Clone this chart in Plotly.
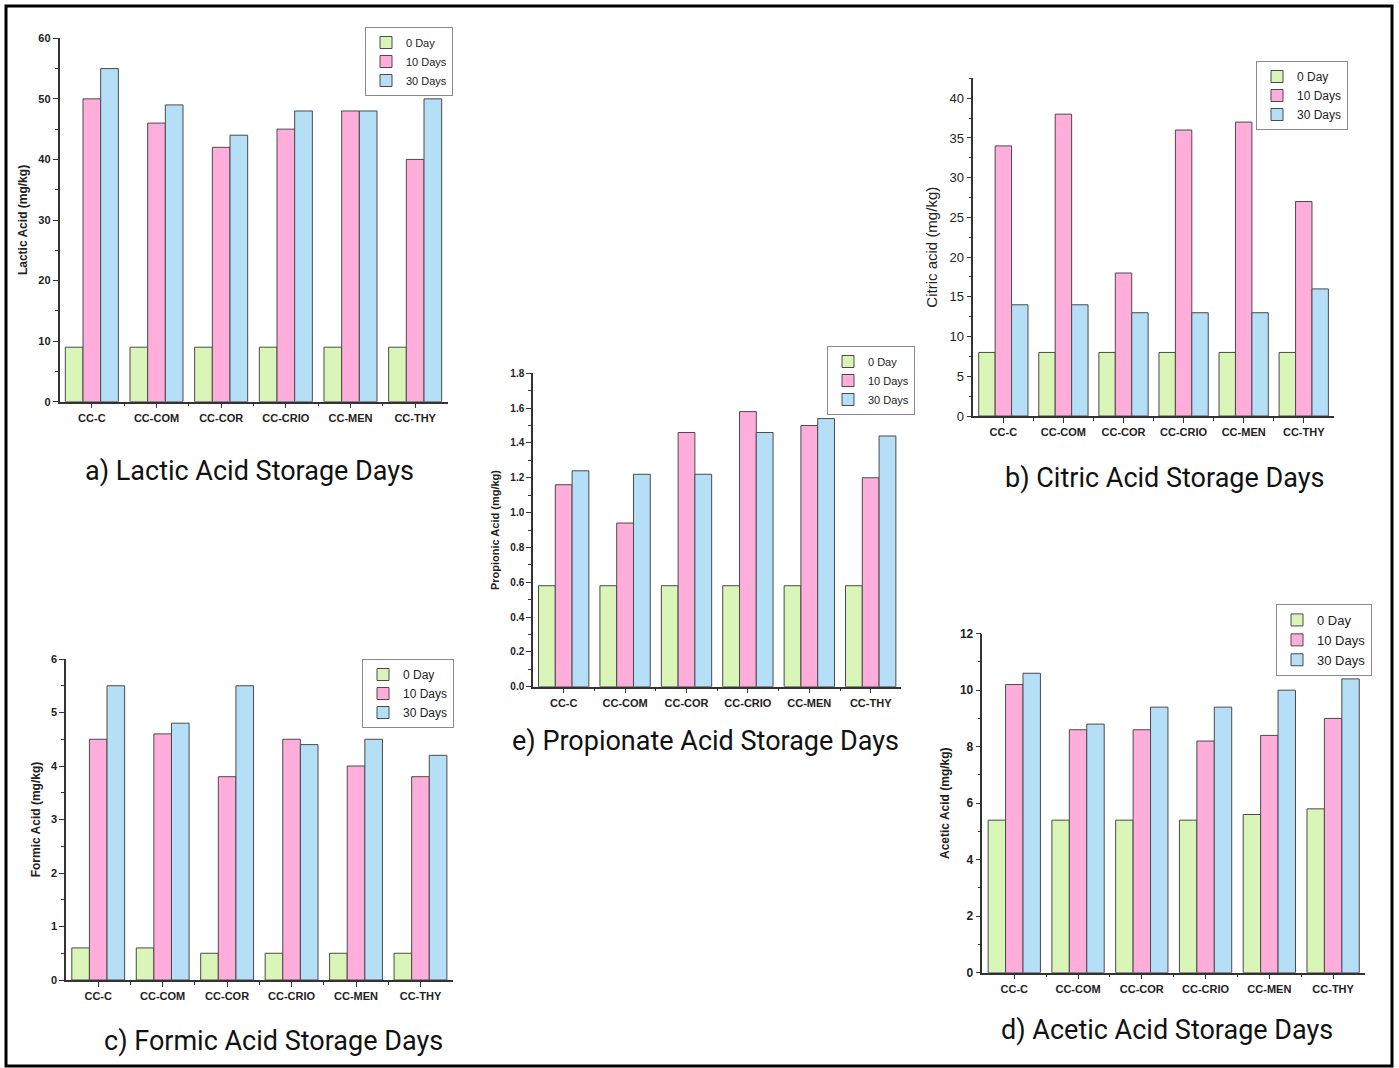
import plotly.graph_objects as go

# ---- data -------------------------------------------------------------
samples = ["CC-C", "CC-COM", "CC-COR", "CC-CRIO", "CC-MEN", "CC-THY"]
periods = ["0 Day", "10 Days", "30 Days"]

lactic_0 = [9, 9, 9, 9, 9, 9]
lactic_10 = [50, 46, 42, 45, 48, 40]
lactic_30 = [55, 49, 44, 48, 48, 50]

citric_0 = [8, 8, 8, 8, 8, 8]
citric_10 = [34, 38, 18, 36, 37, 27]
citric_30 = [14, 14, 13, 13, 13, 16]

propionic_0 = [0.58, 0.58, 0.58, 0.58, 0.58, 0.58]
propionic_10 = [1.16, 0.94, 1.46, 1.58, 1.50, 1.20]
propionic_30 = [1.24, 1.22, 1.22, 1.46, 1.54, 1.44]

formic_0 = [0.6, 0.6, 0.5, 0.5, 0.5, 0.5]
formic_10 = [4.5, 4.6, 3.8, 4.5, 4.0, 3.8]
formic_30 = [5.5, 4.8, 5.5, 4.4, 4.5, 4.2]

acetic_0 = [5.4, 5.4, 5.4, 5.4, 5.6, 5.8]
acetic_10 = [10.2, 8.6, 8.6, 8.2, 8.4, 9.0]
acetic_30 = [10.6, 8.8, 9.4, 9.4, 10.0, 10.4]

# ---- page geometry (pixels) --------------------------------------------
W, H = 1399, 1068
COLORS = ["#daf5b8", "#ffaedb", "#b5dff7"]
OUTLINE = "#4a4a4a"
AXIS = "#333333"
FONT = "Liberation Sans, Arial"


def px_x(v):
    return v / W


def px_y(v):
    return 1 - v / H


fig = go.Figure()

panels = [
    dict(key="", series=[lactic_0, lactic_10, lactic_30], title="Lactic Acid (mg/kg)",
         xdom=(59.5, 447.5), ydom=(401.7, 38.3), yrange=[0, 60], dtick=10, minor=5,
         legend=(365, 27, 11), caption="a) Lactic Acid Storage Days", cap=(249, 471),
         tickfs=11, titlefs=12, titlebold=True),
    dict(key="2", series=[citric_0, citric_10, citric_30], title="Citric acid (mg/kg)",
         xdom=(973.3, 1333.8), ydom=(416.0, 78.4), yrange=[0, 42.5], dtick=5, minor=2.5,
         legend=(1256, 61, 12), caption="b) Citric Acid Storage Days", cap=(1164, 478),
         tickfs=13, titlefs=15, titlebold=False),
    dict(key="3", series=[propionic_0, propionic_10, propionic_30], title="Propionic Acid (mg/kg)",
         xdom=(533.0, 901.4), ydom=(686.7, 373.3), yrange=[0, 1.8], dtick=0.2, minor=0.1,
         legend=(827, 346, 11), caption="e) Propionate Acid Storage Days", cap=(706, 741),
         tickfs=10, titlefs=11, titlebold=True, tickformat=".1f"),
    dict(key="4", series=[formic_0, formic_10, formic_30], title="Formic Acid (mg/kg)",
         xdom=(66.0, 452.7), ydom=(980.0, 659.0), yrange=[0, 6], dtick=1, minor=0.5,
         legend=(362, 659, 12), caption="c) Formic Acid Storage Days", cap=(273, 1041),
         tickfs=11, titlefs=12, titlebold=True),
    dict(key="5", series=[acetic_0, acetic_10, acetic_30], title="Acetic Acid (mg/kg)",
         xdom=(982.4, 1365.0), ydom=(972.7, 633.7), yrange=[0, 12], dtick=2, minor=1,
         legend=(1276, 604, 13), caption="d) Acetic Acid Storage Days", cap=(1167, 1030),
         tickfs=12, titlefs=12, titlebold=True),
]

positions = list(range(len(samples)))
annotations = []

for p in panels:
    k = p["key"]
    legend_name = "legend" + k
    for name, vals, col in zip(periods, p["series"], COLORS):
        fig.add_trace(go.Bar(
            x=positions, y=vals, name=name,
            marker=dict(color=col, line=dict(color=OUTLINE, width=1)),
            xaxis="x" + k, yaxis="y" + k, legend=legend_name,
        ))

    ax_common = dict(showline=True, linecolor=AXIS, linewidth=1.5, showgrid=False,
                     zeroline=False, ticks="outside", tickcolor=AXIS, tickwidth=1.2,
                     automargin=False)
    fig.layout["xaxis" + k] = dict(
        ax_common, domain=[px_x(p["xdom"][0]), px_x(p["xdom"][1])],
        anchor="y" + k, range=[-0.5, len(samples) - 0.5],
        tickmode="array", tickvals=positions, ticktext=samples, ticklen=5,
        tickfont=dict(family=FONT, size=11, color="#222", weight="bold"),
        minor=dict(ticks="outside", ticklen=3, tickcolor=AXIS,
                   tickvals=[v + 0.5 for v in positions[:-1]]),
        fixedrange=True,
    )
    fig.layout["yaxis" + k] = dict(
        ax_common, domain=[px_y(p["ydom"][0]), px_y(p["ydom"][1])],
        anchor="x" + k, range=p["yrange"], dtick=p["dtick"], tick0=0, ticklen=5,
        tickformat=p.get("tickformat", ""),
        tickfont=dict(family=FONT, size=p["tickfs"], color="#222",
                      weight="bold" if p["titlebold"] else "normal"),
        minor=dict(ticks="outside", ticklen=3, tickcolor=AXIS, dtick=p["minor"], tick0=0),
        title=dict(text=p["title"], standoff=8,
                   font=dict(family=FONT, size=p["titlefs"], color="#222",
                             weight="bold" if p["titlebold"] else "normal")),
        fixedrange=True,
    )
    lx, ly, lfs = p["legend"]
    fig.layout[legend_name] = dict(
        x=px_x(lx), y=px_y(ly), xanchor="left", yanchor="top",
        bgcolor="rgba(255,255,255,0)", bordercolor="#8a8a8a", borderwidth=1,
        font=dict(family=FONT, size=lfs, color="#222"),
        tracegroupgap=0, itemwidth=30,
    )
    annotations.append(dict(
        text=p["caption"], x=px_x(p["cap"][0]), y=px_y(p["cap"][1]),
        xref="paper", yref="paper", xanchor="center", yanchor="middle",
        showarrow=False, font=dict(family="Roboto", size=27, color="#111"),
    ))

fig.update_layout(
    width=W, height=H, autosize=False,
    margin=dict(l=0, r=0, t=0, b=0, pad=0, autoexpand=False),
    paper_bgcolor="white", plot_bgcolor="white",
    barmode="group", bargap=0.18, bargroupgap=0,
    annotations=annotations,
    shapes=[dict(type="rect", xref="paper", yref="paper",
                 x0=px_x(6), x1=px_x(1392), y0=px_y(1066), y1=px_y(6),
                 line=dict(color="black", width=3))],
)

fig.write_html("out.html")
